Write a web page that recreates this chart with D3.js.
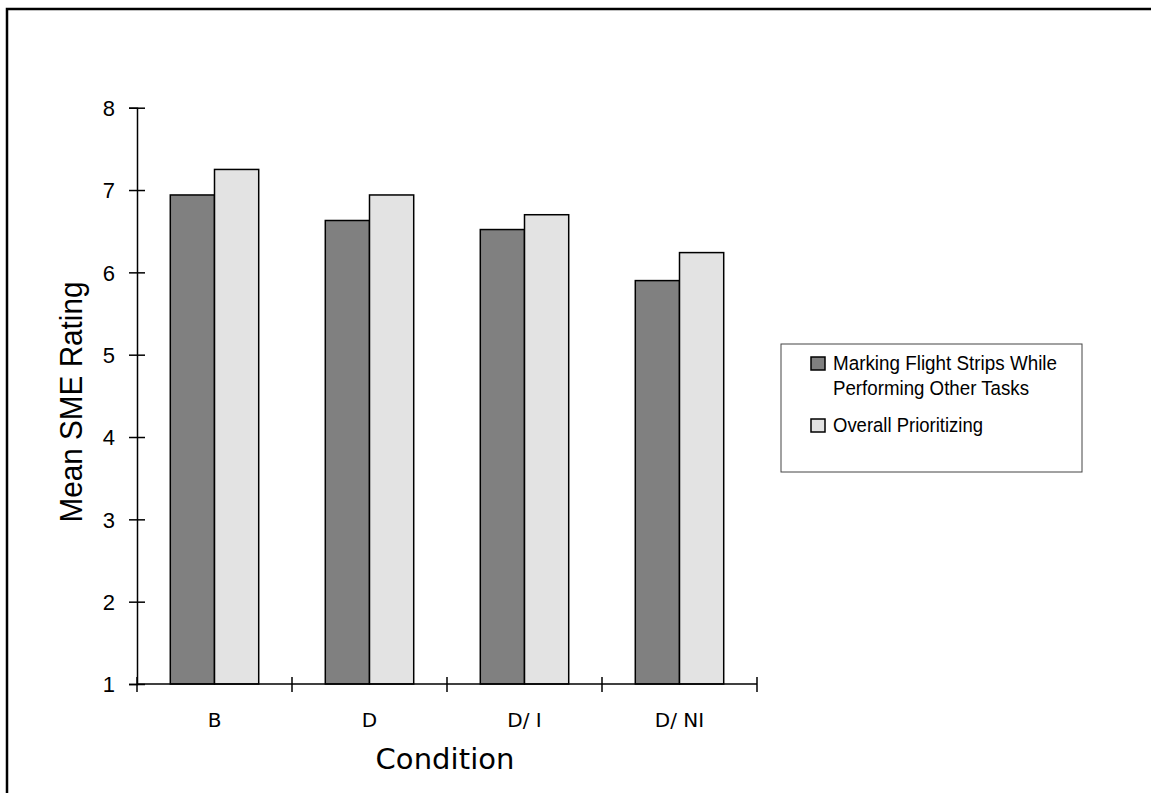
<!DOCTYPE html>
<html>
<head>
<meta charset="utf-8">
<script src="https://cdn.jsdelivr.net/npm/d3@7"></script>
<style>
  body { margin: 0; background: #fff; }
  svg { display: block; }
</style>
</head>
<body>
<script>
var conditions = ['B', 'D', 'D/ I', 'D/ NI'];
var seriesNames = ['Marking Flight Strips While Performing Other Tasks', 'Overall Prioritizing'];
var markingValues = [6.94, 6.63, 6.52, 5.90];
var prioritizingValues = [7.25, 6.94, 6.70, 6.24];
var yTicks = [1, 2, 3, 4, 5, 6, 7, 8];
var fills = ['#808080', '#e3e3e3'];

var svg = d3.select("body").append("svg").attr("width", 1151).attr("height", 793);

// outer frame (only left and top visible)
svg.append("rect")
    .attr("x", 7).attr("y", 9)
    .attr("width", 1170).attr("height", 820)
    .attr("fill", "none").attr("stroke", "#000").attr("stroke-width", 2.5);

var x = d3.scaleBand().domain(conditions).range([137, 757]);
var x1 = d3.scaleBand().domain([0, 1]).range([0, x.bandwidth()]).paddingOuter(0.753);
var y = d3.scaleLinear().domain([1, 8]).range([684, 107.7]);

// bars
var rows = conditions.map(function(c, i) { return {c: c, v: [markingValues[i], prioritizingValues[i]]}; });
var groups = svg.selectAll("g.grp").data(rows).enter().append("g")
    .attr("class", "grp")
    .attr("transform", function(d) { return "translate(" + x(d.c) + ",0)"; });
groups.selectAll("rect")
    .data(function(d) { return d.v.map(function(v, k) { return {k: k, v: v}; }); })
    .enter().append("rect")
        .attr("x", function(d) { return x1(d.k); })
        .attr("y", function(d) { return y(d.v); })
        .attr("width", x1.bandwidth())
        .attr("height", function(d) { return y(1) - y(d.v); })
        .attr("fill", function(d) { return fills[d.k]; })
        .attr("stroke", "#000")
        .attr("stroke-width", 1.5);

// y axis
var yAxis = svg.append("g")
    .attr("transform", "translate(137,0)")
    .call(d3.axisLeft(y).tickValues(yTicks).tickSizeOuter(0).tickSize(8).tickPadding(14).tickFormat(d3.format("d")));
yAxis.select(".domain").attr("stroke-width", 1.5);
yAxis.selectAll(".tick line").attr("x1", 8).attr("x2", -8).attr("stroke-width", 1.5);
yAxis.selectAll(".tick text")
    .style("font-family", "Liberation Sans, Arial, sans-serif")
    .style("font-size", "22px").attr("fill", "#000").attr("dy", "0.36em");

// x axis: line, boundary ticks, labels
var xg = svg.append("g").attr("transform", "translate(0,684)");
xg.append("line")
    .attr("x1", x.range()[0]).attr("x2", x.range()[1])
    .attr("stroke", "#000").attr("stroke-width", 1.5);
var bounds = conditions.map(function(c) { return x(c); }).concat([x.range()[1]]);
xg.selectAll("line.bt").data(bounds).enter().append("line")
    .attr("class", "bt")
    .attr("x1", function(d) { return d; }).attr("x2", function(d) { return d; })
    .attr("y1", -7).attr("y2", 8)
    .attr("stroke", "#000").attr("stroke-width", 1.5);
var xAxis = svg.append("g")
    .attr("transform", "translate(0,684)")
    .call(d3.axisBottom(x).tickSize(0).tickPadding(30));
xAxis.select(".domain").remove();
xAxis.selectAll(".tick text")
    .style("font-family", "DejaVu Sans, sans-serif")
    .style("font-size", "20px").attr("fill", "#000").attr("dy", 0)
    .attr("y", 43);

// axis titles
svg.append("text")
    .attr("transform", "translate(82,402) rotate(-90)")
    .attr("text-anchor", "middle")
    .attr("font-family", "Liberation Sans, Arial, sans-serif")
    .attr("font-size", 32)
    .attr("textLength", 241).attr("lengthAdjust", "spacingAndGlyphs")
    .text("Mean SME Rating");

svg.append("text")
    .attr("x", 445).attr("y", 769)
    .attr("text-anchor", "middle")
    .attr("font-family", "DejaVu Sans, sans-serif")
    .attr("font-size", 29)
    .attr("textLength", 139).attr("lengthAdjust", "spacing")
    .text("Condition");

// legend
var legend = svg.append("g");
legend.append("rect")
    .attr("x", 781).attr("y", 344).attr("width", 301).attr("height", 128)
    .attr("fill", "#fff").attr("stroke", "#444").attr("stroke-width", 1);
var legendLines = [["Marking Flight Strips While", "Performing Other Tasks"], ["Overall Prioritizing"]];
var legendWidths = [[224, 196], [150]];
var legendTop = [370, 432];
var items = legend.selectAll("g.item").data(seriesNames).enter().append("g").attr("class", "item");
items.append("rect")
    .attr("x", 811)
    .attr("y", function(d, i) { return legendTop[i] - 13; })
    .attr("width", 14).attr("height", 13)
    .attr("fill", function(d, i) { return fills[i]; })
    .attr("stroke", "#000").attr("stroke-width", 1.5);
items.append("text")
    .attr("font-family", "Liberation Sans, Arial, sans-serif")
    .attr("font-size", 20.5)
    .selectAll("tspan")
    .data(function(d, i) { return legendLines[i].map(function(t, j) { return {t: t, w: legendWidths[i][j], y: legendTop[i] + j * 25}; }); })
    .enter().append("tspan")
        .attr("x", 833)
        .attr("y", function(d) { return d.y; })
        .attr("textLength", function(d) { return d.w; })
        .attr("lengthAdjust", "spacingAndGlyphs")
        .text(function(d) { return d.t; });
</script>
</body>
</html>
